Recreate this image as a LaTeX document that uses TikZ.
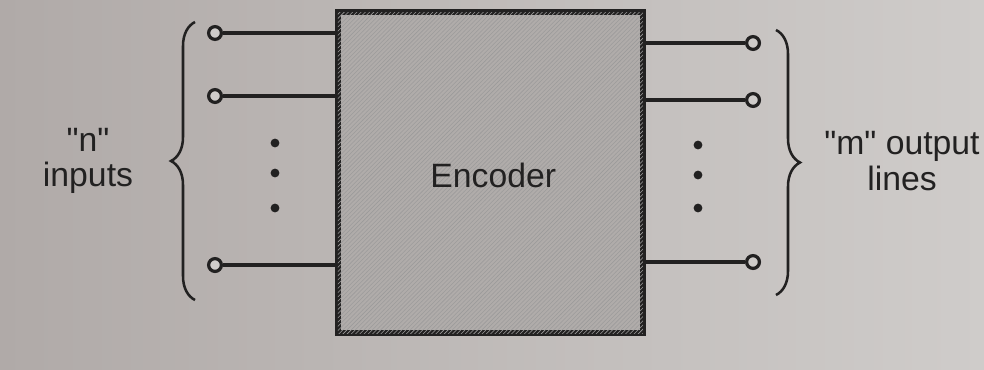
\documentclass[tikz,border=0pt]{standalone}
\usepackage{fontspec}
\setmainfont{Liberation Sans}
\usetikzlibrary{patterns,decorations.pathreplacing}

\definecolor{paperL}{HTML}{B0AAA8}
\definecolor{paperR}{HTML}{CFCCCA}
\definecolor{boxgray}{HTML}{B0ACAA}
\definecolor{ink}{HTML}{222121}

\begin{document}
\begin{tikzpicture}[
		pin/.style={circle, draw=ink, line width=2.3pt, fill=paperR, inner sep=0pt, minimum size=0.32cm},
		wire/.style={ink, line width=2.2pt},
		dotmark/.style={circle, fill=ink, inner sep=0pt, minimum size=0.22cm},
		bigbrace/.style={ink, line width=1.8pt, decorate, decoration={brace, amplitude=0.6cm, aspect=0.5}},
		lbl/.style={font=\fontsize{24}{25}\selectfont, text=ink, align=center}
	]
		\shade[left color=paperL, right color=paperR] (0, 0) rectangle (24.6, 9.225);
		\useasboundingbox (0, 0) rectangle (24.6, 9.225);
		
		\node[draw=ink, line width=4pt, fill=boxgray,
			postaction={pattern=north east lines, pattern color=ink!45},
			minimum width=7.625cm, minimum height=8.025cm, inner sep=0pt] (enc) at (12.26, 4.91) {};
		\node[lbl] (enclbl) at (12.33, 4.85) {Encoder};
		
		\node[pin] (in1) at (5.375, 8.4) {};
		\node[pin] (in2) at (5.375, 6.825) {};
		\node[pin] (inn) at (5.375, 2.6) {};
		\draw[wire] (in1) -- (in1 -| enc.west);
		\draw[wire] (in2) -- (in2 -| enc.west);
		\draw[wire] (inn) -- (inn -| enc.west);
		
		\node[pin] (out1) at (18.825, 8.15) {};
		\node[pin] (out2) at (18.825, 6.725) {};
		\node[pin] (outm) at (18.825, 2.675) {};
		\draw[wire] (out1) -- (out1 -| enc.east);
		\draw[wire] (out2) -- (out2 -| enc.east);
		\draw[wire] (outm) -- (outm -| enc.east);
		
		\node[dotmark] (ind1) at (6.875, 5.65) {};
		\node[dotmark] (ind2) at (6.875, 4.9) {};
		\node[dotmark] (ind3) at (6.875, 4.025) {};
		\node[dotmark] (outd1) at (17.45, 5.6) {};
		\node[dotmark] (outd2) at (17.45, 4.85) {};
		\node[dotmark] (outd3) at (17.45, 4.025) {};
		
		\coordinate (lbot) at (4.875, 1.725);
		\coordinate (ltop) at (4.875, 8.675);
		\coordinate (rtop) at (19.4, 8.475);
		\coordinate (rbot) at (19.4, 1.85);
		\draw[bigbrace] (lbot) -- (ltop);
		\draw[bigbrace] (rtop) -- (rbot);
		
		\node[lbl] (inlbl) at (2.2, 5.2) {\textquotedbl n\textquotedbl\\inputs};
		\node[lbl] (outlbl) at (22.55, 5.2) {\textquotedbl m\textquotedbl{} output\\lines};
	\end{tikzpicture}
\end{document}
